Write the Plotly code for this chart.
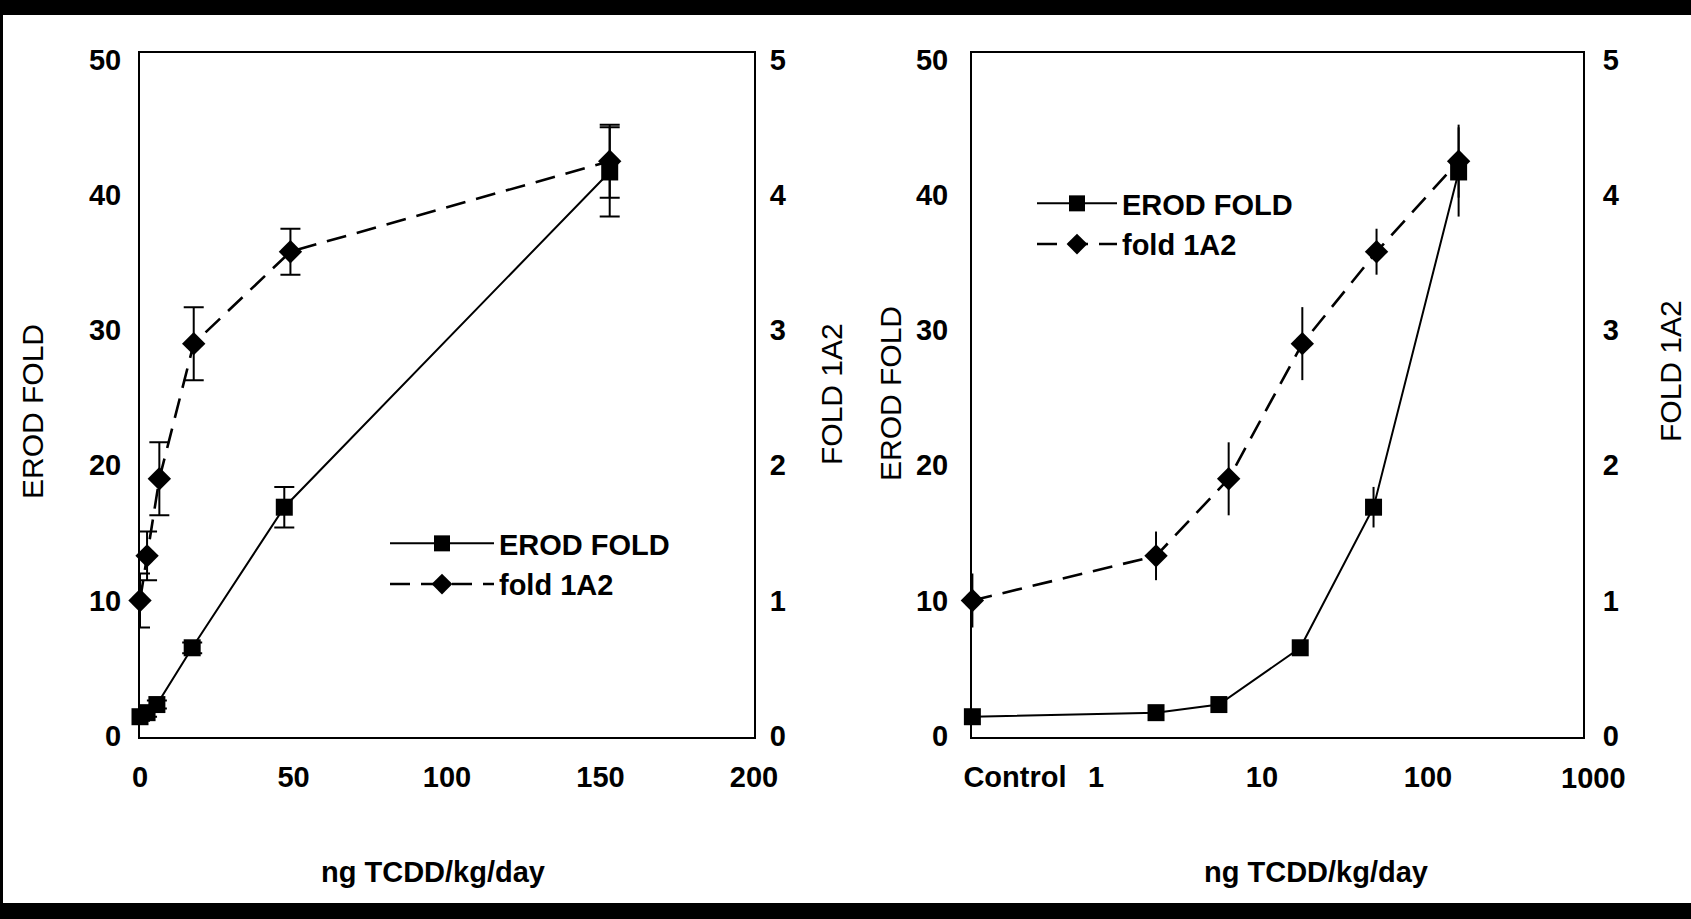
import math
import plotly.graph_objects as go

# ---- data ----
doses_erod = [0, 2.3, 5.5, 17, 47, 153]          # ng TCDD/kg/day (0 = control)
doses_1a2 = [0, 2.3, 6.3, 17.5, 49, 153]
erod_fold = [1.4, 1.7, 2.3, 6.5, 16.9, 41.7]
erod_err = [0.3, 0.3, 0.3, 0.4, 1.5, 3.3]
fold_1a2 = [1.0, 1.33, 1.9, 2.9, 3.58, 4.25]
fold_1a2_err = [0.2, 0.18, 0.27, 0.27, 0.17, 0.27]

left_y_ticks = [0, 10, 20, 30, 40, 50]
right_y_ticks = [0, 1, 2, 3, 4, 5]
lin_x_ticks = [0, 50, 100, 150, 200]
log_x_tickvals = [0.325, 1, 10, 100]
log_x_ticktext = ["Control", "1", "10", "100"]
log_x_last_tick = 1000   # sits just past the right edge of the log axis
CONTROL_X_LOG = 0.18     # where the control group sits on the log axis

W, H = 1691, 919
FONT = "Liberation Sans, Arial, Helvetica, sans-serif"

def px_x(p):
    return p / W

def px_y(p):
    return 1 - p / H

ydom = [px_y(737), px_y(53)]
x1dom = [px_x(140), px_x(754)]
x1range = [0, 200]
x2dom = [px_x(972), px_x(1583)]
x2range = [-0.747, 2.934]

fig = go.Figure()

log_erod_x = [CONTROL_X_LOG] + doses_erod[1:]
log_1a2_x = [CONTROL_X_LOG] + doses_1a2[1:]

sq = dict(symbol="square", size=17, color="black")
dm = dict(symbol="diamond", size=18, color="black")
solid = dict(color="black", width=2)
dashed = dict(color="black", width=2.6, dash="20px,11px")

# left panel (linear)
fig.add_trace(go.Scatter(x=doses_erod, y=erod_fold, mode="lines+markers", name="EROD FOLD",
                         marker=sq, line=solid, xaxis="x", yaxis="y", cliponaxis=False,
                         error_y=dict(type="data", array=erod_err, color="black", thickness=2, width=10),
                         legend="legend"))
fig.add_trace(go.Scatter(x=doses_1a2, y=fold_1a2, mode="lines+markers", name="fold 1A2",
                         marker=dm, line=dashed, xaxis="x", yaxis="y2", cliponaxis=False,
                         error_y=dict(type="data", array=fold_1a2_err, color="black", thickness=2, width=10),
                         legend="legend"))
# right panel (log)
fig.add_trace(go.Scatter(x=log_erod_x, y=erod_fold, mode="lines+markers", name="EROD FOLD",
                         marker=sq, line=solid, xaxis="x2", yaxis="y3", cliponaxis=False,
                         error_y=dict(type="data", array=erod_err, color="black", thickness=2, width=0),
                         legend="legend2"))
fig.add_trace(go.Scatter(x=log_1a2_x, y=fold_1a2, mode="lines+markers", name="fold 1A2",
                         marker=dm, line=dashed, xaxis="x2", yaxis="y4", cliponaxis=False,
                         error_y=dict(type="data", array=fold_1a2_err, color="black", thickness=2, width=0),
                         legend="legend2"))

tickfont = dict(family=FONT, size=29, color="black", weight="bold")
common_axis = dict(showgrid=False, zeroline=False, showline=True, linecolor="black", linewidth=2,
                   ticks="", tickfont=tickfont, automargin=False)

legend_font = dict(family=FONT, size=29, color="black", weight="bold")

fig.update_layout(
    width=W, height=H,
    margin=dict(l=0, r=0, t=0, b=0),
    paper_bgcolor="white", plot_bgcolor="white",
    font=dict(family=FONT, color="black"),
    xaxis=dict(domain=x1dom, range=x1range, tickvals=lin_x_ticks,
               anchor="y", mirror=True, ticklabelstandoff=13, **common_axis),
    yaxis=dict(domain=ydom, range=[-0.1, 50.5], tickvals=left_y_ticks, anchor="x",
               ticklabelstandoff=11, **common_axis),
    yaxis2=dict(range=[-0.01, 5.05], tickvals=right_y_ticks, overlaying="y", side="right", anchor="x",
                ticklabelstandoff=8, **common_axis),
    xaxis2=dict(domain=x2dom, type="log", range=x2range,
                tickvals=log_x_tickvals, ticktext=log_x_ticktext, anchor="y3", mirror=True,
                ticklabelstandoff=13, **common_axis),
    yaxis3=dict(domain=ydom, range=[-0.1, 50.5], tickvals=left_y_ticks, anchor="x2",
                ticklabelstandoff=16, **common_axis),
    yaxis4=dict(range=[-0.01, 5.05], tickvals=right_y_ticks, overlaying="y3", side="right", anchor="x2",
                ticklabelstandoff=12, **common_axis),
    legend=dict(x=px_x(385), y=px_y(518), xanchor="left", yanchor="top", bgcolor="rgba(0,0,0,0)",
                font=legend_font, itemwidth=104, tracegroupgap=0),
    legend2=dict(x=px_x(1032), y=px_y(178), xanchor="left", yanchor="top", bgcolor="rgba(0,0,0,0)",
                 font=legend_font, itemwidth=80, tracegroupgap=0),
    showlegend=True,
)

title_font = dict(family=FONT, size=29, color="black", weight="bold")
ytitle_font = dict(family=FONT, size=30, color="black")
annos = [
    dict(text="ng TCDD/kg/day", x=px_x(433), y=px_y(872), font=title_font),
    dict(text="ng TCDD/kg/day", x=px_x(1316), y=px_y(872), font=title_font),
    dict(text="EROD FOLD", x=px_x(32), y=px_y(412), font=ytitle_font, textangle=-90),
    dict(text="FOLD 1A2", x=px_x(831), y=px_y(394), font=ytitle_font, textangle=-90),
    dict(text="EROD FOLD", x=px_x(890), y=px_y(394), font=ytitle_font, textangle=-90),
    dict(text="FOLD 1A2", x=px_x(1670), y=px_y(371), font=ytitle_font, textangle=-90),
]
for a in annos:
    fig.add_annotation(xref="paper", yref="paper", xanchor="center", yanchor="middle",
                       showarrow=False, **a)

# the "1000" tick label of the log axis lies just beyond the plotted range:
# place it through the same domain/range mapping the axis uses
def to_paper(v, rng, dom):
    return dom[0] + (v - rng[0]) / (rng[1] - rng[0]) * (dom[1] - dom[0])

x_1000 = to_paper(math.log10(log_x_last_tick), x2range, x2dom)
fig.add_annotation(xref="paper", yref="paper", x=x_1000, y=px_y(778),
                   text=str(log_x_last_tick), showarrow=False, xanchor="center", yanchor="middle",
                   font=tickfont)

# scan frame: black bands at top and bottom, thin left edge
fig.add_shape(type="rect", xref="paper", yref="paper", x0=0, x1=1, y0=px_y(15), y1=1,
              fillcolor="black", line=dict(width=0), layer="above")
fig.add_shape(type="rect", xref="paper", yref="paper", x0=0, x1=1, y0=0, y1=px_y(903),
              fillcolor="black", line=dict(width=0), layer="above")
fig.add_shape(type="rect", xref="paper", yref="paper", x0=0, x1=px_x(3), y0=0, y1=1,
              fillcolor="black", line=dict(width=0), layer="above")

fig.write_html("out.html", config={"displayModeBar": False},
               post_script="document.body.style.margin='0';")
